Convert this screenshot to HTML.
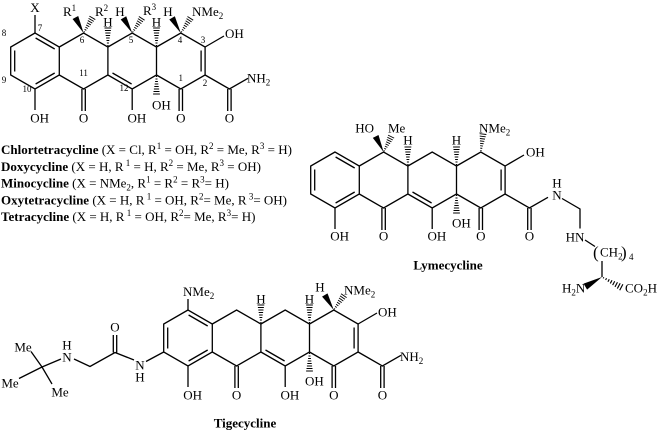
<!DOCTYPE html>
<html>
<head>
<meta charset="utf-8">
<style>
html,body{margin:0;padding:0;background:#fff;}
svg{display:block;}
text{font-family:"Liberation Serif","Times New Roman",serif;font-size:13px;fill:#000;}
.n{font-size:9px;}
.b{font-weight:bold;}
</style>
</head>
<body>
<svg width="658" height="432" viewBox="0 0 658 432" xmlns="http://www.w3.org/2000/svg">
<defs>
  <g id="hs" stroke="#000" stroke-width="1">
    <line x1="1.5" y1="-0.6" x2="1.5" y2="0.6"/>
    <line x1="4" y1="-1.0" x2="4" y2="1.0"/>
    <line x1="6.5" y1="-1.4" x2="6.5" y2="1.4"/>
    <line x1="9" y1="-1.8" x2="9" y2="1.8"/>
    <line x1="11.5" y1="-2.2" x2="11.5" y2="2.2"/>
    <line x1="14" y1="-2.6" x2="14" y2="2.6"/>
    <line x1="16.5" y1="-3.0" x2="16.5" y2="3.0"/>
    <line x1="19" y1="-3.4" x2="19" y2="3.4"/>
  </g>
  <polygon id="wd" points="0,0 17.5,-3.2 17.5,3.2" fill="#000"/>
  <g id="core">
    <path fill="none" stroke="#000" stroke-width="1.3" stroke-linejoin="miter" d="
      M35,33 L10.7,47 L10.7,75 L35,89 L59.3,75 L59.3,47 Z
      M59.3,47 L83.6,33 L107.9,47 L107.9,75 L83.6,89 L59.3,75
      M107.9,47 L132.2,33 L156.5,47 L156.5,75 L132.2,89 L107.9,75
      M156.5,47 L180.8,33 L205.1,47 L205.1,75 L180.8,89 L156.5,75
      M14.7,50.5 L14.7,71.5
      M35.6,38 L54.7,49
      M35.6,84 L54.7,73
      M112.5,73 L131.6,84
      M201.1,50.5 L201.1,71.5
      M81.9,89 V111 M85.3,89 V111
      M179.1,89 V111 M182.5,89 V111
      M227.7,89 V111 M231.1,89 V111
      M132.2,89 V110
      M35,89 V110
      M205.1,47 L224,36
      M205.1,75 L229.4,89 L248,78.3"/>
    <use href="#hs" transform="translate(107.9,47) rotate(-90)"/>
    <use href="#hs" transform="translate(156.5,47) rotate(-90)"/>
    <use href="#hs" transform="translate(156.5,75) rotate(90)"/>
  </g>
</defs>

<!-- ================= Structure 1 (general tetracycline) ================= -->
<use href="#core"/>
<path fill="none" stroke="#000" stroke-width="1.3" d="M35,33 V15"/>
<use href="#wd" transform="translate(83.6,33) rotate(-118)"/>
<use href="#hs" transform="translate(83.6,33) rotate(-60) scale(0.92,1)"/>
<use href="#wd" transform="translate(132.2,33) rotate(-120)"/>
<use href="#hs" transform="translate(132.2,33) rotate(-57) scale(0.92,1)"/>
<use href="#wd" transform="translate(180.8,33) rotate(-120)"/>
<use href="#hs" transform="translate(180.8,33) rotate(-57) scale(0.92,1)"/>

<text x="35" y="12" text-anchor="middle">X</text>
<text x="63" y="16">R<tspan class="n" dy="-5">1</tspan></text>
<text x="95" y="16">R<tspan class="n" dy="-5">2</tspan></text>
<text x="120" y="16" text-anchor="middle">H</text>
<text x="143" y="15">R<tspan class="n" dy="-5">3</tspan></text>
<text x="168" y="16" text-anchor="middle">H</text>
<text x="192" y="16">NMe<tspan class="n" dy="3">2</tspan></text>
<text x="107.9" y="26.5" text-anchor="middle">H</text>
<text x="156.5" y="26.5" text-anchor="middle">H</text>
<text x="225" y="38">OH</text>
<text x="247" y="82.5">NH<tspan class="n" dy="3">2</tspan></text>
<text x="83.6" y="122.5" text-anchor="middle">O</text>
<text x="30.3" y="122.5">OH</text>
<text x="127.5" y="122.5">OH</text>
<text x="152" y="109.5">OH</text>
<text x="180.8" y="122.5" text-anchor="middle">O</text>
<text x="229.4" y="122.5" text-anchor="middle">O</text>

<text class="n" x="40" y="31" text-anchor="middle">7</text>
<text class="n" x="4" y="36" text-anchor="middle">8</text>
<text class="n" x="4" y="83" text-anchor="middle">9</text>
<text class="n" x="27" y="92" text-anchor="middle">10</text>
<text class="n" x="82" y="43" text-anchor="middle">6</text>
<text class="n" x="83.6" y="76" text-anchor="middle">11</text>
<text class="n" x="124" y="91" text-anchor="middle">12</text>
<text class="n" x="131" y="43" text-anchor="middle">5</text>
<text class="n" x="180" y="43" text-anchor="middle">4</text>
<text class="n" x="203" y="43" text-anchor="middle">3</text>
<text class="n" x="180.8" y="81" text-anchor="middle">1</text>
<text class="n" x="205" y="86" text-anchor="middle">2</text>

<text x="1" y="154"><tspan class="b">Chlortetracycline</tspan> (X = Cl, R<tspan class="n" dy="-5">1</tspan><tspan dy="5"> = OH, R</tspan><tspan class="n" dy="-5">2</tspan><tspan dy="5"> = Me, R</tspan><tspan class="n" dy="-5">3</tspan><tspan dy="5"> = H)</tspan></text>
<text x="1" y="170.8"><tspan class="b">Doxycycline</tspan> (X = H, R<tspan class="n" dy="-5"> 1</tspan><tspan dy="5"> = H, R</tspan><tspan class="n" dy="-5">2</tspan><tspan dy="5"> = Me, R</tspan><tspan class="n" dy="-5">3</tspan><tspan dy="5"> = OH)</tspan></text>
<text x="1" y="187.5"><tspan class="b">Minocycline</tspan> (X = NMe<tspan class="n" dy="3">2</tspan><tspan dy="-3">, R</tspan><tspan class="n" dy="-5">1</tspan><tspan dy="5"> = R</tspan><tspan class="n" dy="-5">2</tspan><tspan dy="5"> = R</tspan><tspan class="n" dy="-5">3</tspan><tspan dy="5">= H)</tspan></text>
<text x="1" y="204.3"><tspan class="b">Oxytetracycline</tspan> (X = H, R<tspan class="n" dy="-5"> 1</tspan><tspan dy="5"> = OH, R</tspan><tspan class="n" dy="-5">2</tspan><tspan dy="5">= Me, R</tspan><tspan class="n" dy="-5"> 3</tspan><tspan dy="5">= OH)</tspan></text>
<text x="1" y="221"><tspan class="b">Tetracycline</tspan> (X = H, R<tspan class="n" dy="-5"> 1</tspan><tspan dy="5"> = OH, R</tspan><tspan class="n" dy="-5">2</tspan><tspan dy="5">= Me, R</tspan><tspan class="n" dy="-5">3</tspan><tspan dy="5">= H)</tspan></text>

<!-- ================= Lymecycline ================= -->
<use href="#core" transform="translate(300,119)"/>
<use href="#wd" transform="translate(383.6,152) rotate(-117)"/>
<use href="#hs" transform="translate(383.6,152) rotate(-64) scale(0.9,1)"/>
<use href="#hs" transform="translate(480.8,152) rotate(-83) scale(0.95,1)"/>
<path fill="none" stroke="#000" stroke-width="1.3" d="
  M562,198.5 L580,209 V228.5
  M585,240 L595,246.5
  M602,261 V277"/>
<use href="#wd" transform="translate(602,277) rotate(150) scale(1.1)"/>
<use href="#hs" transform="translate(602,277) rotate(28) scale(1.15,1)"/>

<text x="374" y="132.5" text-anchor="end">HO</text>
<text x="388" y="132.5">Me</text>
<text x="407.9" y="144.5" text-anchor="middle">H</text>
<text x="456.5" y="144.5" text-anchor="middle">H</text>
<text x="479" y="132.5">NMe<tspan class="n" dy="3">2</tspan></text>
<text x="526" y="156.5">OH</text>
<text x="330.3" y="240.5">OH</text>
<text x="383.6" y="240.5" text-anchor="middle">O</text>
<text x="427.5" y="240.5">OH</text>
<text x="452" y="227.5">OH</text>
<text x="480.8" y="240.5" text-anchor="middle">O</text>
<text x="529.4" y="240.5" text-anchor="middle">O</text>
<text x="557" y="187.5" text-anchor="middle">H</text>
<text x="557" y="199.5" text-anchor="middle">N</text>
<text x="575" y="241.5" text-anchor="middle">HN</text>
<text x="593" y="258" style="font-size:17px">(</text>
<text x="600" y="256.5">CH<tspan class="n" dy="3">2</tspan></text>
<text x="621" y="258" style="font-size:17px">)</text>
<text class="n" x="629" y="260">4</text>
<text x="562" y="292.5">H<tspan class="n" dy="3">2</tspan><tspan dy="-3">N</tspan></text>
<text x="625" y="292.5">CO<tspan class="n" dy="3">2</tspan><tspan dy="-3">H</tspan></text>
<text class="b" x="448" y="269.5" text-anchor="middle">Lymecycline</text>

<!-- ================= Tigecycline ================= -->
<use href="#core" transform="translate(153,277)"/>
<use href="#wd" transform="translate(333.8,310) rotate(-121)"/>
<use href="#hs" transform="translate(333.8,310) rotate(-55) scale(0.92,1)"/>
<path fill="none" stroke="#000" stroke-width="1.3" d="
  M188,310 V299
  M163.7,352 L146,361.5
  M134,360 L115,352.5 L90,366.5 L74,359
  M113.3,352.5 V335 M116.7,352.5 V335
  M61,359 L42,367
  M42,367 L31,351.5
  M42,367 L19,378.5
  M42,367 L52,384"/>

<text x="183" y="296">NMe<tspan class="n" dy="3">2</tspan></text>
<text x="260.9" y="303.5" text-anchor="middle">H</text>
<text x="309.5" y="303.5" text-anchor="middle">H</text>
<text x="320" y="291.5" text-anchor="middle">H</text>
<text x="344" y="294.5">NMe<tspan class="n" dy="3">2</tspan></text>
<text x="378" y="316.5">OH</text>
<text x="400" y="361">NH<tspan class="n" dy="3">2</tspan></text>
<text x="382.4" y="399.5" text-anchor="middle">O</text>
<text x="333.8" y="399.5" text-anchor="middle">O</text>
<text x="305" y="385.5">OH</text>
<text x="280.5" y="399.5">OH</text>
<text x="236.6" y="399.5" text-anchor="middle">O</text>
<text x="183.3" y="399.5">OH</text>
<text x="140" y="369.5" text-anchor="middle">N</text>
<text x="140" y="381.5" text-anchor="middle">H</text>
<text x="115" y="331.5" text-anchor="middle">O</text>
<text x="67" y="361.5" text-anchor="middle">N</text>
<text x="67" y="349.5" text-anchor="middle">H</text>
<text x="23" y="351.5" text-anchor="middle">Me</text>
<text x="10" y="387.5" text-anchor="middle">Me</text>
<text x="60" y="396.5" text-anchor="middle">Me</text>
<text class="b" x="245" y="427.5" text-anchor="middle">Tigecycline</text>
</svg>
</body>
</html>
